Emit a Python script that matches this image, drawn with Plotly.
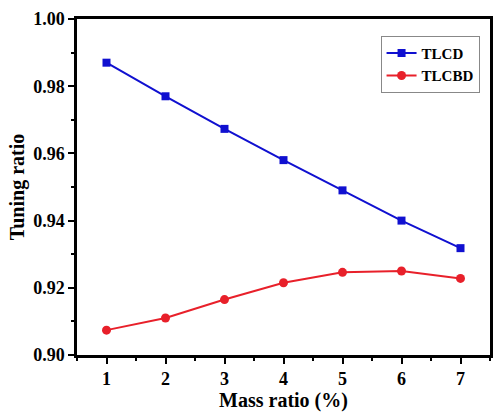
import plotly.graph_objects as go

mass_ratio = [1, 2, 3, 4, 5, 6, 7]
tlcd = [0.987, 0.977, 0.9673, 0.958, 0.949, 0.940, 0.9318]
tlcbd = [0.9074, 0.9110, 0.9165, 0.9215, 0.9246, 0.9250, 0.9228]
y_ticks = [0.90, 0.92, 0.94, 0.96, 0.98, 1.00]
y_labels = ["0.90", "0.92", "0.94", "0.96", "0.98", "1.00"]

ff = "Liberation Serif, Times New Roman, serif"

fig = go.Figure()
fig.add_trace(go.Scatter(x=mass_ratio, y=tlcd, mode="lines+markers", name="TLCD",
                         line=dict(color="#1010D0", width=2),
                         marker=dict(symbol="square", size=8, color="#1010D0")))
fig.add_trace(go.Scatter(x=mass_ratio, y=tlcbd, mode="lines+markers", name="TLCBD",
                         line=dict(color="#E8202A", width=2),
                         marker=dict(symbol="circle", size=9, color="#E8202A")))

fig.update_layout(
    width=497, height=414,
    margin=dict(l=77, r=4, t=19, b=59),
    plot_bgcolor="white", paper_bgcolor="white",
    font=dict(family=ff, color="black", weight="bold"),
    showlegend=True,
    legend=dict(x=0.735, y=0.95, xanchor="left", yanchor="top",
                bordercolor="#888888", borderwidth=1, bgcolor="white",
                font=dict(size=15, family=ff, color="black", weight="bold"),
                tracegroupgap=0, itemwidth=30),
    xaxis=dict(range=[0.5, 7.5], tickmode="array", tickvals=mass_ratio,
               ticks="outside", ticklen=6, tickwidth=2, tickcolor="black",
               minor=dict(ticks="outside", ticklen=3, tickwidth=2, tickcolor="black", dtick=0.5),
               showline=True, linewidth=2.5, linecolor="black", mirror=True,
               showgrid=False, zeroline=False,
               tickfont=dict(size=18, family=ff, weight="bold"),
               title=dict(text="Mass ratio (%)", font=dict(size=20, family=ff, weight="bold"), standoff=2)),
    yaxis=dict(range=[0.90, 1.00], tickmode="array",
               tickvals=y_ticks, ticktext=y_labels,
               ticks="outside", ticklen=6, tickwidth=2, tickcolor="black",
               minor=dict(ticks="outside", ticklen=3, tickwidth=2, tickcolor="black", dtick=0.01),
               showline=True, linewidth=2.5, linecolor="black", mirror=True,
               showgrid=False, zeroline=False,
               tickfont=dict(size=18, family=ff, weight="bold"),
               title=dict(text="Tuning ratio", font=dict(size=20, family=ff, weight="bold"), standoff=4)),
)

fig.write_html("out.html")
